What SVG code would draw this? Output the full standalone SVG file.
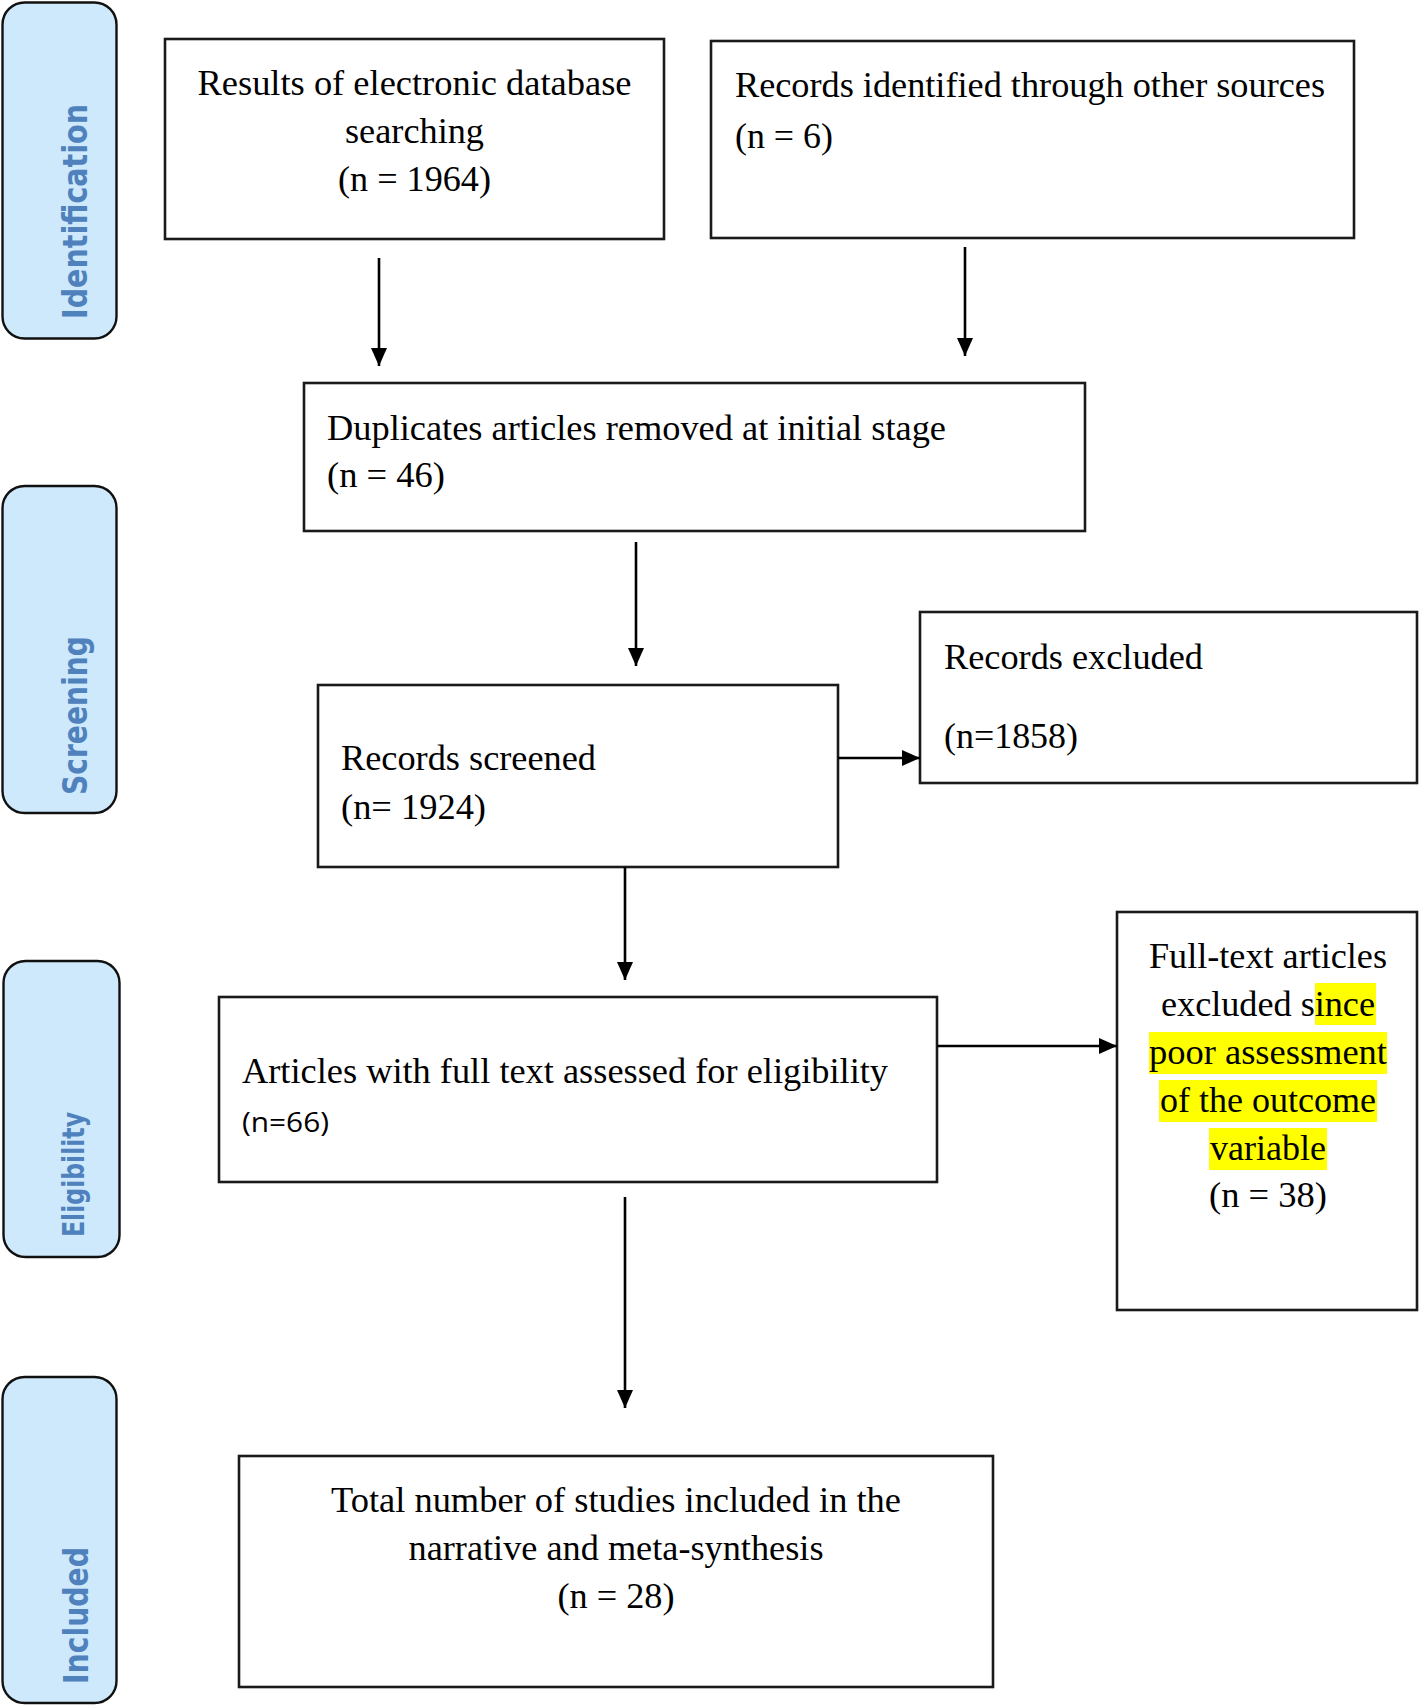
<svg xmlns="http://www.w3.org/2000/svg" width="1420" height="1705" viewBox="0 0 1420 1705">
<style>
.bg{fill:#ffffff}
.box{fill:#ffffff;stroke:#1a1a1a;stroke-width:2.6}
.stage{fill:#cde9fb;stroke:#111111;stroke-width:2.4}
.t{font-size:35px;fill:#000000}
.s{font-size:28px;fill:#000000}
.lab{font-weight:bold;font-size:34px;fill:#4f81bd}
.hl{fill:#ffff00}
.conn{stroke:#000000;stroke-width:2.6;fill:none}
</style>
<defs>
<marker id="ah" markerUnits="userSpaceOnUse" markerWidth="18" markerHeight="16" refX="18" refY="8" orient="auto">
<path d="M0,0 L18,8 L0,16 Z" fill="#000000"/>
</marker>
</defs>
<rect class="bg" x="0" y="0" width="1420" height="1705"/>

<g id="stage-identification" font-family="'DejaVu Sans', sans-serif">
<rect class="stage" x="2.5" y="2.5" width="114" height="336" rx="22"/>
<text class="lab" transform="translate(87,211.5) rotate(-90)" text-anchor="middle" textLength="215" lengthAdjust="spacingAndGlyphs">Identification</text>
</g>
<g id="stage-screening" font-family="'DejaVu Sans', sans-serif">
<rect class="stage" x="2.5" y="486" width="114" height="327" rx="22"/>
<text class="lab" transform="translate(87,715.5) rotate(-90)" text-anchor="middle" textLength="159" lengthAdjust="spacingAndGlyphs">Screening</text>
</g>
<g id="stage-eligibility" font-family="'DejaVu Sans', sans-serif">
<rect class="stage" x="3.5" y="961" width="116" height="296" rx="22"/>
<text class="lab" style="font-size:31px" transform="translate(84,1174.5) rotate(-90)" text-anchor="middle" textLength="125" lengthAdjust="spacingAndGlyphs">Eligibility</text>
</g>
<g id="stage-included" font-family="'DejaVu Sans', sans-serif">
<rect class="stage" x="2.5" y="1377" width="114" height="326" rx="22"/>
<text class="lab" transform="translate(88,1615.5) rotate(-90)" text-anchor="middle" textLength="137" lengthAdjust="spacingAndGlyphs">Included</text>
</g>

<g font-family="'Liberation Serif', 'Times New Roman', Times, serif">
<g id="node-database">
<rect class="box" x="165" y="39" width="499" height="200"/>
<text class="t" x="414.5" y="95" text-anchor="middle" textLength="434" lengthAdjust="spacingAndGlyphs">Results of electronic database</text>
<text class="t" x="414.5" y="143" text-anchor="middle" textLength="139" lengthAdjust="spacingAndGlyphs">searching</text>
<text class="t" x="414.5" y="191" text-anchor="middle" textLength="153" lengthAdjust="spacingAndGlyphs">(n = 1964)</text>
</g>

<g id="node-other">
<rect class="box" x="711" y="41" width="643" height="197"/>
<text class="t" x="735" y="97" textLength="590" lengthAdjust="spacingAndGlyphs">Records identified through other sources</text>
<text class="t" x="735" y="148" textLength="98" lengthAdjust="spacingAndGlyphs">(n = 6)</text>
</g>

<g id="node-duplicates">
<rect class="box" x="304" y="383" width="781" height="148"/>
<text class="t" x="327" y="440" textLength="619" lengthAdjust="spacingAndGlyphs">Duplicates articles removed at initial stage</text>
<text class="t" x="327" y="487" textLength="118" lengthAdjust="spacingAndGlyphs">(n = 46)</text>
</g>

<g id="node-screened">
<rect class="box" x="318" y="685" width="520" height="182"/>
<text class="t" x="341" y="770" textLength="255" lengthAdjust="spacingAndGlyphs">Records screened</text>
<text class="t" x="341" y="819" textLength="145" lengthAdjust="spacingAndGlyphs">(n= 1924)</text>
</g>

<g id="node-excluded">
<rect class="box" x="920" y="612" width="497" height="171"/>
<text class="t" x="944" y="669" textLength="259" lengthAdjust="spacingAndGlyphs">Records excluded</text>
<text class="t" x="944" y="748" textLength="134" lengthAdjust="spacingAndGlyphs">(n=1858)</text>
</g>

<g id="node-fulltext">
<rect class="box" x="219" y="997" width="718" height="185"/>
<text class="t" x="242" y="1083" textLength="646" lengthAdjust="spacingAndGlyphs">Articles with full text assessed for eligibility</text>
<text class="s" font-family="'Open Sans', 'Liberation Sans', sans-serif" x="242" y="1132" textLength="87" lengthAdjust="spacingAndGlyphs">(n=66)</text>
</g>

<g id="node-ftexcluded">
<rect class="box" x="1117" y="912" width="300" height="398"/>
<rect class="hl" x="1315" y="983" width="61" height="42"/>
<rect class="hl" x="1149" y="1032" width="238" height="42"/>
<rect class="hl" x="1159" y="1080" width="218" height="42"/>
<rect class="hl" x="1209" y="1128" width="118" height="42"/>
<text class="t" x="1268" y="968" text-anchor="middle" textLength="238" lengthAdjust="spacingAndGlyphs">Full-text articles</text>
<text class="t" x="1268" y="1016" text-anchor="middle" textLength="214" lengthAdjust="spacingAndGlyphs">excluded since</text>
<text class="t" x="1268" y="1064" text-anchor="middle" textLength="238" lengthAdjust="spacingAndGlyphs">poor assessment</text>
<text class="t" x="1268" y="1112" text-anchor="middle" textLength="216" lengthAdjust="spacingAndGlyphs">of the outcome</text>
<text class="t" x="1268" y="1160" text-anchor="middle" textLength="116" lengthAdjust="spacingAndGlyphs">variable</text>
<text class="t" x="1268" y="1207" text-anchor="middle" textLength="118" lengthAdjust="spacingAndGlyphs">(n = 38)</text>
</g>

<g id="node-included">
<rect class="box" x="239" y="1456" width="754" height="231"/>
<text class="t" x="616" y="1512" text-anchor="middle" textLength="570" lengthAdjust="spacingAndGlyphs">Total number of studies included in the</text>
<text class="t" x="616" y="1560" text-anchor="middle" textLength="415" lengthAdjust="spacingAndGlyphs">narrative and meta-synthesis</text>
<text class="t" x="616" y="1608" text-anchor="middle" textLength="117" lengthAdjust="spacingAndGlyphs">(n = 28)</text>
</g>
</g>

<g id="connectors">
<line class="conn" x1="379" y1="258" x2="379" y2="366" marker-end="url(#ah)"/>
<line class="conn" x1="965" y1="247" x2="965" y2="356" marker-end="url(#ah)"/>
<line class="conn" x1="636" y1="542" x2="636" y2="666" marker-end="url(#ah)"/>
<line class="conn" x1="838" y1="758" x2="920" y2="758" marker-end="url(#ah)"/>
<line class="conn" x1="625" y1="867" x2="625" y2="980" marker-end="url(#ah)"/>
<line class="conn" x1="937" y1="1046" x2="1117" y2="1046" marker-end="url(#ah)"/>
<line class="conn" x1="625" y1="1197" x2="625" y2="1408" marker-end="url(#ah)"/>
</g>
</svg>
